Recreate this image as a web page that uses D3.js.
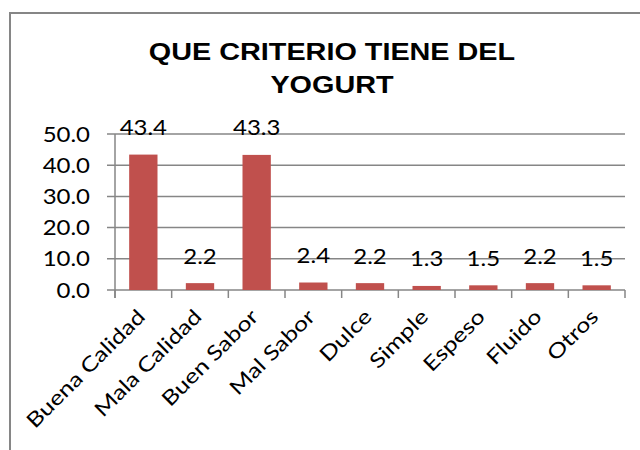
<!DOCTYPE html>
<html>
<head>
<meta charset="utf-8">
<script src="https://cdn.jsdelivr.net/npm/d3@7"></script>
<style>
  body { margin: 0; background: #fff; }
  svg { display: block; }
</style>
</head>
<body>
<div id="chart"></div>
<script>
// data
var categories = ["Buena Calidad", "Mala Calidad", "Buen Sabor", "Mal Sabor", "Dulce", "Simple", "Espeso", "Fluido", "Otros"];
var values = [43.4, 2.2, 43.3, 2.4, 2.2, 1.3, 1.5, 2.2, 1.5];
var yTicks = [0, 10, 20, 30, 40, 50];
var titleLines = ["QUE CRITERIO TIENE DEL", "YOGURT"];

var W = 640, H = 450;
// the source image is stretched sideways a bit, so the texts get scaled too
var stretch = 1.17;

var svg = d3.select("#chart").append("svg")
    .attr("width", W)
    .attr("height", H);

// chart frame (runs off the right and bottom of the picture)
svg.append("rect")
    .attr("x", 10).attr("y", 13)
    .attr("width", 700).attr("height", 500)
    .attr("fill", "#fff")
    .attr("stroke", "#868686")
    .attr("stroke-width", 2);

// title
svg.append("g").selectAll("text")
    .data(titleLines)
    .join("text")
    .attr("transform", function(d, i) { return "translate(332," + (60 + i * 33) + ") scale(" + 1.2 + ",1)"; })
    .attr("text-anchor", "middle")
    .style("font-family", "'Liberation Sans', Arial, sans-serif")
    .style("font-weight", "bold")
    .style("font-size", "24px")
    .text(function(d) { return d; });

var plot = {left: 115, right: 625, top: 134, bottom: 290};

var x = d3.scaleBand()
    .domain(categories)
    .range([plot.left, plot.right])
    .paddingInner(0.5)
    .paddingOuter(0.25);

var y = d3.scaleLinear()
    .domain([0, 50])
    .range([plot.bottom, plot.top]);

var gridColor = "#868686";
var labelFont = "Lato, 'Open Sans', sans-serif";

// gridlines
svg.append("g").selectAll("line")
    .data(yTicks)
    .join("line")
    .attr("x1", plot.left - 8)
    .attr("x2", plot.right)
    .attr("y1", function(d) { return y(d); })
    .attr("y2", function(d) { return y(d); })
    .attr("stroke", gridColor)
    .attr("stroke-width", 1.5);

// y axis line
svg.append("line")
    .attr("x1", plot.left).attr("x2", plot.left)
    .attr("y1", plot.top).attr("y2", plot.bottom + 8)
    .attr("stroke", gridColor)
    .attr("stroke-width", 1.5);

// x axis ticks at the band edges
var edges = categories.map(function(c) { return x(c) - x.step() * x.paddingInner() / 2; });
edges.push(plot.right);
svg.append("g").selectAll("line")
    .data(edges)
    .join("line")
    .attr("x1", function(d) { return d; })
    .attr("x2", function(d) { return d; })
    .attr("y1", plot.bottom)
    .attr("y2", plot.bottom + 8)
    .attr("stroke", gridColor)
    .attr("stroke-width", 1.5);

// y tick labels
svg.append("g").selectAll("text")
    .data(yTicks)
    .join("text")
    .attr("transform", function(d) { return "translate(90," + (y(d) + 7.5) + ") scale(" + stretch + ",1)"; })
    .attr("text-anchor", "end")
    .style("font-family", labelFont)
    .style("font-size", "20.5px")
    .attr("fill", "#000")
    .text(function(d) { return d.toFixed(1); });

// bars
svg.append("g").selectAll("rect")
    .data(values)
    .join("rect")
    .attr("x", function(d, i) { return x(categories[i]); })
    .attr("y", function(d) { return y(d); })
    .attr("width", x.bandwidth())
    .attr("height", function(d) { return y(0) - y(d); })
    .attr("fill", "#C0504D");

// value labels
svg.append("g").selectAll("text")
    .data(values)
    .join("text")
    .attr("transform", function(d, i) {
        return "translate(" + (x(categories[i]) + x.bandwidth() / 2) + "," + (y(d) - 19.5) + ") scale(" + stretch + ",1)";
    })
    .attr("text-anchor", "middle")
    .style("font-family", labelFont)
    .style("font-size", "20.5px")
    .text(function(d) { return d.toFixed(1); });

// category labels, rotated
svg.append("g").selectAll("text")
    .data(categories)
    .join("text")
    .attr("transform", function(d) {
        return "translate(" + (x(d) + x.bandwidth() / 2 + 3) + "," + (plot.bottom + 28) + ") rotate(-45) scale(1.22,1)";
    })
    .attr("text-anchor", "end")
    .style("font-family", labelFont)
    .style("font-size", "20.5px")
    .text(function(d) { return d; });
</script>
</body>
</html>
